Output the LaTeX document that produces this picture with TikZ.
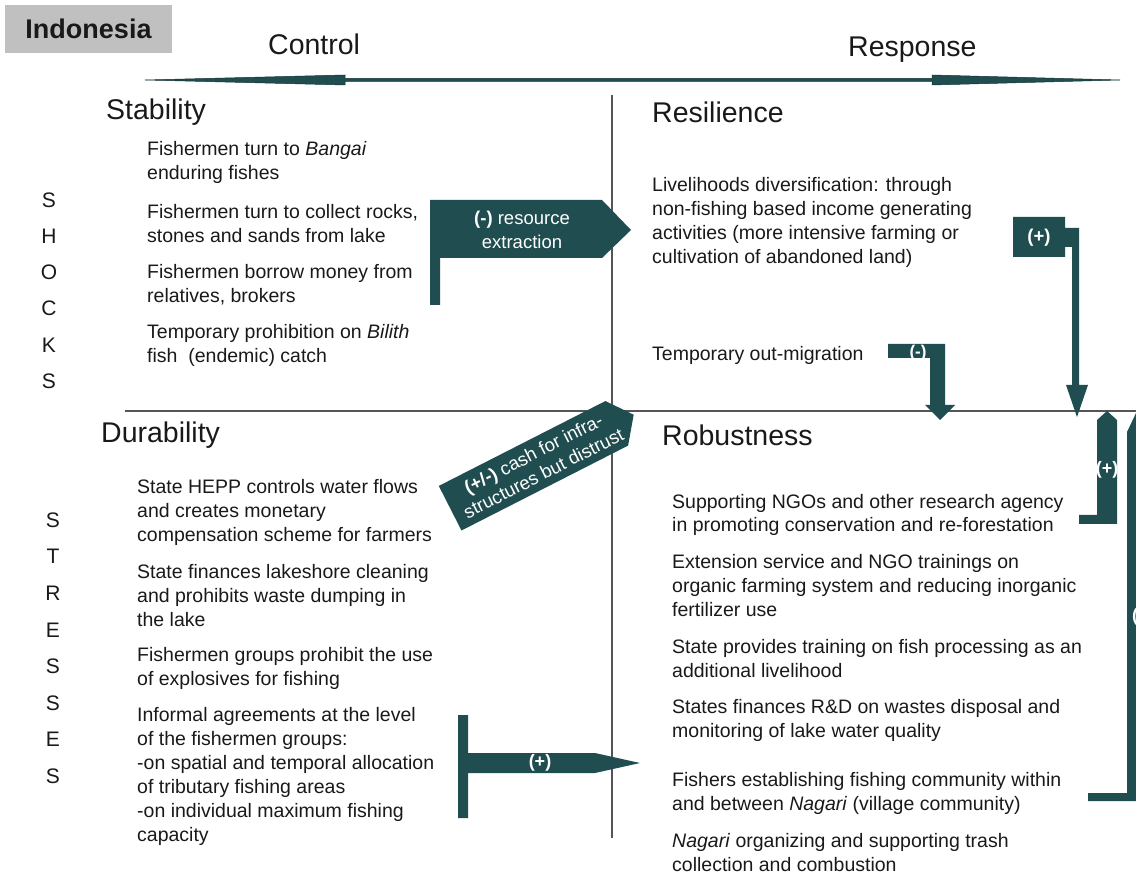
\documentclass[tikz,border=0pt]{standalone}
\usepackage{fontspec}
\setmainfont{Liberation Sans}

\definecolor{flowteal}{RGB}{32,77,79}
\definecolor{flowedge}{RGB}{20,50,52}
\definecolor{gridgray}{RGB}{85,85,85}
\definecolor{tabgray}{RGB}{192,192,192}
\definecolor{inktext}{RGB}{25,25,25}

\def\itemfont{\fontsize{19.5}{24}\selectfont}
\def\headfont{\fontsize{28.5}{34}\selectfont}
\def\tagfont{\fontsize{18.5}{24}\selectfont}
\def\signfont{\bfseries\fontsize{18}{18}\selectfont}

\tikzset{
  item/.style={anchor=north west, align=left, inner sep=0pt, font=\itemfont, text=inktext},
  head/.style={anchor=west, inner sep=0pt, font=\headfont, text=inktext},
  letter/.style={inner sep=0pt, font=\fontsize{21}{24}\selectfont, text=inktext},
  tag/.style={inner sep=0pt, align=center, font=\tagfont, text=white},
  divider/.style={gridgray, line width=1.3pt},
}

\begin{document}
\begin{tikzpicture}[x=1pt, y=-1pt]
\useasboundingbox (0,0) rectangle (1136,874);
\clip (0,0) rectangle (1136,874);

% header
\node[fill=tabgray, minimum width=167pt, minimum height=48pt, inner sep=0pt, font=\bfseries\fontsize{27}{30}\selectfont, text=inktext] (country) at (88.5,29) {Indonesia};
\node[head] (control) at (268,44) {Control};
\node[head] (response) at (848,50) {Response};
\filldraw[fill=flowteal, draw=flowedge, line width=0.5pt] (145,80) -- (345,75) -- (345,78.5) -- (932,78.5) -- (932,75) -- (1120,80) -- (932,85) -- (932,81.5) -- (345,81.5) -- (345,85) -- cycle;

% quadrants
\draw[divider] (612,95) -- (612,838);
\draw[divider] (125,411) -- (1136,411);
\node[head] (stability) at (106,112) {Stability};
\node[head] (resilience) at (652,112) {Resilience};
\node[head] (durability) at (101,435) {Durability};
\node[head] (robustness) at (662,435) {Robustness};

\foreach \ch [count=\i] in {S,H,O,C,K,S}
  \node[letter] (shock\i) at (49,{200+36.2*(\i-1)}) {\ch};
\foreach \ch [count=\i] in {S,T,R,E,S,S,E,S}
  \node[letter] (stress\i) at (53,{520+36.6*(\i-1)}) {\ch};

% stability
\node[item] (stab1) at (147,139) {\strut Fishermen turn to \textit{Bangai}\\enduring fishes};
\node[item] (stab2) at (147,202) {\strut Fishermen turn to collect rocks,\\stones and sands from lake};
\node[item] (stab3) at (147,262) {\strut Fishermen borrow money from\\relatives, brokers};
\node[item] (stab4) at (147,322) {\strut Temporary prohibition on \textit{Bilith}\\fish\ \ (endemic) catch};

% resilience
\node[item] (res1) at (652,175) {\strut Livelihoods diversification: through\\non-fishing based income generating\\activities (more intensive farming or\\cultivation of abandoned land)};
\node[item] (res2) at (652,344) {\strut Temporary out-migration};

% durability
\node[item] (dur1) at (137,476) {\strut State HEPP controls water flows\\and creates monetary\\compensation scheme for farmers};
\node[item] (dur2) at (137,561) {\strut State finances lakeshore cleaning\\and prohibits waste dumping in\\the lake};
\node[item] (dur3) at (137,644) {\strut Fishermen groups prohibit the use\\of explosives for fishing};
\node[item] (dur4) at (137,704) {\strut Informal agreements at the level\\of the fishermen groups:\\-on spatial and temporal allocation\\of tributary fishing areas\\-on individual maximum fishing\\capacity};

% robustness
\node[item] (rob1) at (672,491) {\strut Supporting NGOs and other research agency\\in promoting conservation and re-forestation};
\node[item] (rob2) at (672,551) {\strut Extension service and NGO trainings on\\organic farming system and reducing inorganic\\fertilizer use};
\node[item] (rob3) at (672,636) {\strut State provides training on fish processing as an\\additional livelihood};
\node[item] (rob4) at (672,696) {\strut States finances R\&D on wastes disposal and\\monitoring of lake water quality};
\node[item] (rob5) at (672,769) {\strut Fishers establishing fishing community within\\and between \textit{Nagari} (village community)};
\node[item] (rob6) at (672,830) {\strut \textit{Nagari} organizing and supporting trash\\collection and combustion};

% (-) resource extraction
\fill[flowteal] (430,200) -- (602,200) -- (631,230) -- (602,258) -- (440,258) -- (440,305) -- (430,305) -- cycle;
\node[tag] (extract) at (522,230) {\textbf{(-)} resource\\extraction};

% (+/-) cash
\begin{scope}[shift={(533,466)}, rotate=27, transform shape]
\fill[flowteal] (-93,-25) -- (94,-25) -- (113,0) -- (94,25) -- (-93,25) -- cycle;
\node[tag, font=\fontsize{18.5}{22}\selectfont] (cash) at (6,0) {\textbf{(+/-)} cash for infra-\\structures but distrust};
\end{scope}

% (+) diversification
\fill[flowteal] (1013,217) -- (1065,217) -- (1065,228) -- (1079,228) -- (1079,385) -- (1088,385) -- (1077,417) -- (1066,385) -- (1072,385) -- (1072,247) -- (1065,247) -- (1065,257) -- (1013,257) -- cycle;
\node[tag, font=\bfseries\tagfont] (plusres) at (1039,238) {(+)};

% (-) out-migration
\fill[flowteal] (888,344) -- (945,344) -- (945,405) -- (955,405) -- (940,420) -- (925,405) -- (930,405) -- (930,358) -- (888,358) -- cycle;
\node[tag, font=\bfseries\fontsize{17}{17}\selectfont] (minusmig) at (918,353) {(-)};

% (+) up from robustness
\fill[flowteal] (1079,515) -- (1097,515) -- (1097,420) -- (1107,411) -- (1117,420) -- (1117,524) -- (1079,524) -- cycle;
\node[tag, font=\signfont] (plusrob) at (1107,470) {(+)};

% (-) long one at the edge
\fill[flowteal] (1088,793) -- (1127,793) -- (1127,432) -- (1137,411) -- (1147,432) -- (1147,801) -- (1088,801) -- cycle;
\node[tag, font=\signfont] (minusedge) at (1141,617) {(-)};

% (+) informal agreements
\fill[flowteal] (458,715) -- (468,715) -- (468,753) -- (595,753) -- (640,763) -- (595,773) -- (468,773) -- (468,818) -- (458,818) -- cycle;
\node[tag, font=\signfont] (plusdur) at (540,763) {(+)};
\end{tikzpicture}
\end{document}
